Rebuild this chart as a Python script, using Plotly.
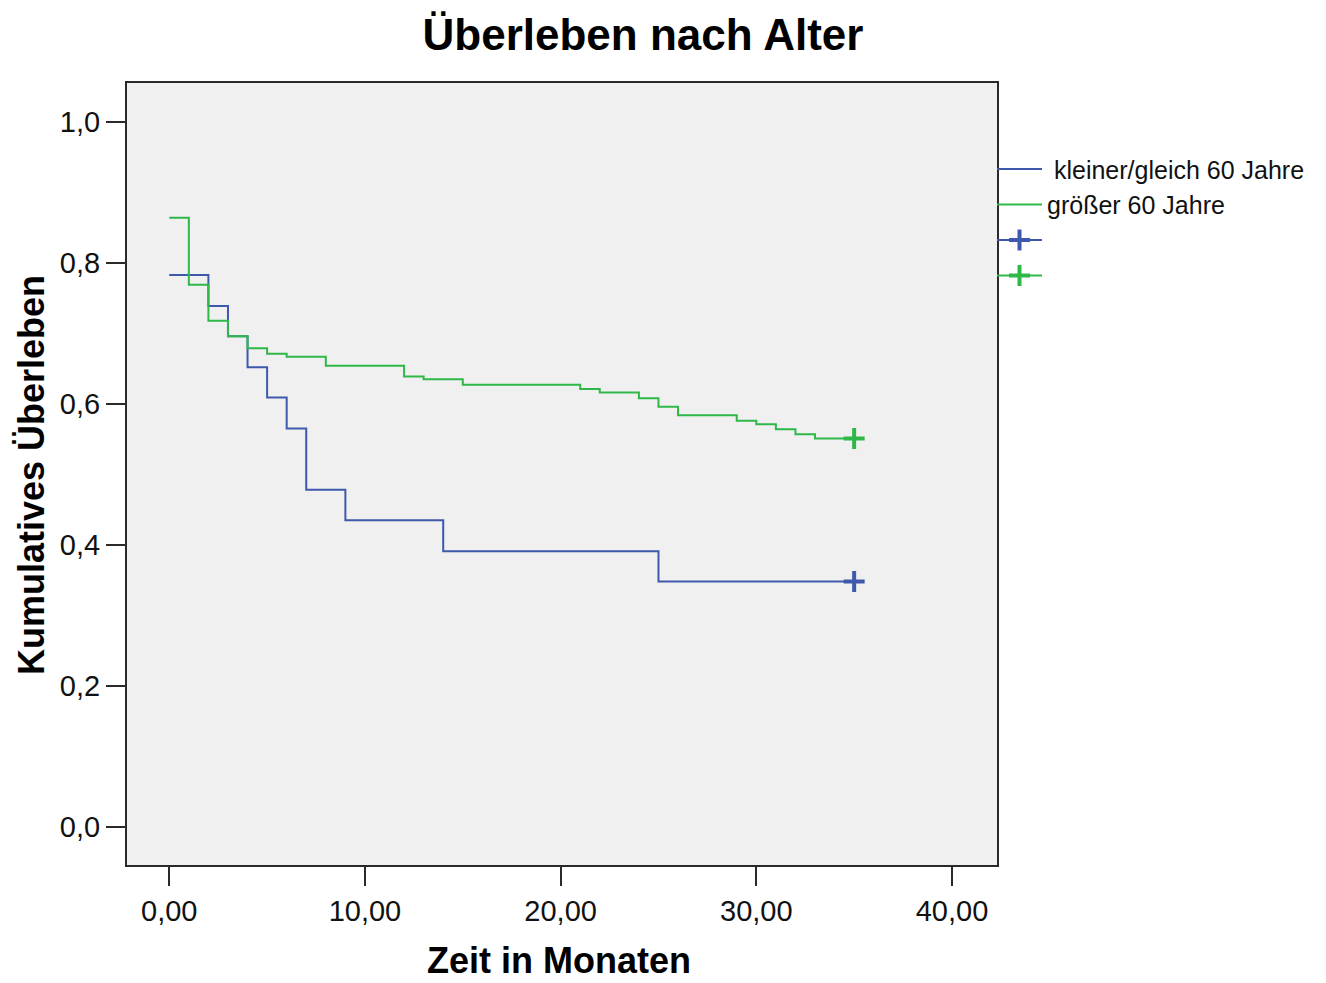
import plotly.graph_objects as go

# ---- data ----
blue_name = "\u00a0kleiner/gleich 60 Jahre"
blue_times = [0, 2, 3, 4, 5, 6, 7, 9, 14, 25]
blue_surv = [0.783, 0.739, 0.696, 0.652, 0.609, 0.565, 0.478, 0.435, 0.391, 0.348]
blue_censor_time = [35]

green_name = "größer 60 Jahre"
green_times = [0, 1, 2, 3, 4, 5, 6, 8, 12, 13, 15, 21, 22, 24, 25, 26, 29, 30, 31, 32, 33]
green_surv = [0.864, 0.769, 0.718, 0.696, 0.679, 0.671, 0.667, 0.654, 0.639, 0.635,
              0.627, 0.621, 0.616, 0.608, 0.596, 0.584, 0.576, 0.571, 0.564, 0.557, 0.551]
green_censor_time = [35]

x_ticks = [0, 10, 20, 30, 40]
y_ticks = [0.0, 0.2, 0.4, 0.6, 0.8, 1.0]

BLUE = "rgb(62,88,172)"
GREEN = "rgb(46,184,72)"
FONT = "Liberation Sans, Arial, sans-serif"

# the page body has an 8px margin; the figure is sized/offset to compensate
OFF = 8
W, H = 1326 - OFF, 983 - OFF
ML, MR, MT, MB = 127 - OFF, 329, 83 - OFF, 118
PW, PH = W - ML - MR, H - MT - MB

fig = go.Figure()

def step_trace(times, surv, end_time, name, color):
    xs = list(times) + [end_time]
    ys = list(surv) + [surv[-1]]
    return go.Scatter(x=xs, y=ys, mode="lines", line=dict(shape="hv", color=color, width=2),
                      name=name, showlegend=True)

fig.add_trace(step_trace(blue_times, blue_surv, blue_censor_time[0], blue_name, BLUE))
fig.add_trace(step_trace(green_times, green_surv, green_censor_time[0], green_name, GREEN))

fig.add_trace(go.Scatter(x=blue_censor_time, y=[blue_surv[-1]], mode="lines+markers", name="",
                         line=dict(color=BLUE, width=2),
                         marker=dict(symbol="cross-thin", size=15, line=dict(color=BLUE, width=4))))
fig.add_trace(go.Scatter(x=green_censor_time, y=[green_surv[-1]], mode="lines+markers", name="",
                         line=dict(color=GREEN, width=2),
                         marker=dict(symbol="cross-thin", size=15, line=dict(color=GREEN, width=4))))

fig.update_layout(
    width=W, height=H,
    margin=dict(l=ML, r=MR, t=MT, b=MB),
    paper_bgcolor="white",
    plot_bgcolor="#F0F0F0",
    separators=",.",
    font=dict(family=FONT, color="#111111"),
    title=dict(text="<b>Überleben nach Alter</b>", x=(643 - OFF) / W, xanchor="center",
               y=1 - (35 - OFF) / H, yanchor="middle", font=dict(size=44, color="black")),
    legend=dict(x=1 - 5 / PW, xanchor="left", y=0.919, yanchor="top", bgcolor="rgba(0,0,0,0)",
                font=dict(size=25, color="#111111"), itemwidth=45, tracegroupgap=0,
                borderwidth=0),
)

fig.update_xaxes(
    range=[-2.16, 42.3], tickvals=x_ticks, tickformat=".2f",
    showgrid=False, zeroline=False,
    showline=True, linecolor="#2a2a2a", linewidth=2, mirror=True,
    ticks="outside", ticklen=19, tickwidth=2, tickcolor="#2a2a2a",
    tickfont=dict(size=29, color="#111111"),
)
fig.update_yaxes(
    range=[-0.0543, 1.0553], tickvals=y_ticks, tickformat=".1f",
    showgrid=False, zeroline=False,
    showline=True, linecolor="#2a2a2a", linewidth=2, mirror=True,
    ticks="outside", ticklen=19, tickwidth=2, tickcolor="#2a2a2a",
    tickfont=dict(size=29, color="#111111"),
)

fig.add_annotation(text="<b>Zeit in Monaten</b>", xref="paper", yref="paper",
                   x=(559 - 127) / PW, y=(865 - 961) / PH, xanchor="center", yanchor="middle",
                   showarrow=False, font=dict(size=36, color="black"))
fig.add_annotation(text="<b>Kumulatives Überleben</b>", xref="paper", yref="paper",
                   x=(31 - 127) / PW, y=(865 - 475) / PH, xanchor="center", yanchor="middle",
                   textangle=-90, showarrow=False, font=dict(size=36, color="black"))

fig.write_html("out.html")
